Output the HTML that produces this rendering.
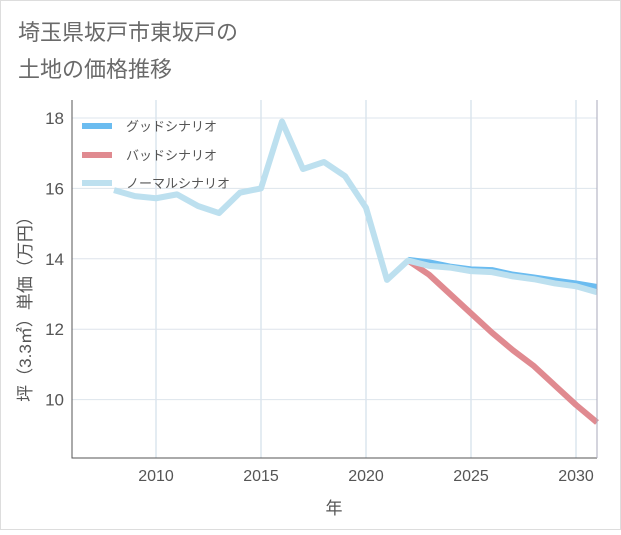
<!DOCTYPE html>
<html><head><meta charset="utf-8"><style>
body{margin:0;background:#fff;}
svg text{font-family:"Liberation Sans","Noto Sans CJK JP",sans-serif;}
</style></head><body>
<svg width="621" height="530" xmlns="http://www.w3.org/2000/svg">
<rect x="0.5" y="0.5" width="620" height="529" fill="#fff" stroke="#ddd"/>
<text x="18" y="40" font-size="22" fill="#6a6a6a">埼玉県坂戸市東坂戸の</text>
<text x="18" y="77" font-size="22" fill="#6a6a6a">土地の価格推移</text>
<g id="grid"></g>
<g id="series"></g>
<g id="axes"></g>
<text x="0" y="0" transform="translate(31,305) rotate(-90)" text-anchor="middle" font-size="17" fill="#555">坪（3.3㎡）単価（万円）</text>
<text x="334" y="514" text-anchor="middle" font-size="17" fill="#555">年</text>
<g>
<line x1="82" y1="126" x2="112" y2="126" stroke="#6bbcf0" stroke-width="6"/>
<text x="126" y="131" font-size="13" fill="#555">グッドシナリオ</text>
<line x1="82" y1="155" x2="112" y2="155" stroke="#e08a90" stroke-width="6"/>
<text x="126" y="160" font-size="13" fill="#555">バッドシナリオ</text>
<line x1="82" y1="183" x2="112" y2="183" stroke="#bde0ef" stroke-width="6"/>
<text x="126" y="188" font-size="13" fill="#555">ノーマルシナリオ</text>
</g>
</svg>
<script>
const normalYears=[2008,2009,2010,2011,2012,2013,2014,2015,2016,2017,2018,2019,2020,2021,2022,2023,2024,2025,2026,2027,2028,2029,2030,2031];
const normalValues=[15.95,15.78,15.72,15.83,15.5,15.3,15.88,16.0,17.9,16.55,16.75,16.35,15.45,13.4,13.95,13.8,13.75,13.65,13.62,13.5,13.42,13.3,13.22,13.05];
const forecastYears=[2022,2023,2024,2025,2026,2027,2028,2029,2030,2031];
const goodValues=[13.97,13.9,13.78,13.7,13.68,13.55,13.47,13.38,13.3,13.2];
const badValues=[13.95,13.55,13.0,12.45,11.9,11.4,10.95,10.4,9.85,9.35];
const xTicks=[2010,2015,2020,2025,2030];
const yTicks=[10,12,14,16,18];
const L=72,R=597,T=100,B=458;
const X=y=>L+(y-2006)*21;
const Y=v=>118+(18-v)*35.2;
const NS='http://www.w3.org/2000/svg';
function mk(t,a,p){const e=document.createElementNS(NS,t);for(const k in a)e.setAttribute(k,a[k]);p.appendChild(e);return e;}
const grid=document.getElementById('grid'),axes=document.getElementById('axes'),series=document.getElementById('series');
xTicks.forEach(t=>{
 const l=mk('line',{x1:X(t),x2:X(t),y1:T,y2:B,stroke:'#c8d8e6','stroke-width':1},grid);
 
 
 const tx=mk('text',{x:X(t),y:B+23,'text-anchor':'middle','font-size':16,fill:'#555'},axes);
 tx.textContent=t;
 
 
});
yTicks.forEach(t=>{
 const l=mk('line',{x1:L,x2:R,y1:Y(t),y2:Y(t),stroke:'#dde4ec','stroke-width':1},grid);
 
 
 const tx=mk('text',{x:L-8,y:Y(t)+6,'text-anchor':'end','font-size':17,fill:'#555'},axes);
 tx.textContent=t;
 
 
});
const ax=mk('path',{d:`M${L},${T}V${B}H${R}`,fill:'none',stroke:'#555','stroke-width':1},axes);


const rx=mk('line',{x1:R,x2:R,y1:T,y2:B,stroke:'#aab','stroke-width':1},axes);


function line(xs,vs,c,name){
 const p=mk('polyline',{points:xs.map((y,i)=>X(y)+','+Y(vs[i])).join(' '),fill:'none',stroke:c,'stroke-width':6,'stroke-linejoin':'round'},series);
 
 
}
line(forecastYears,badValues,'#e08a90','bad-scenario-line');
line(forecastYears,goodValues,'#6bbcf0','good-scenario-line');
line(normalYears,normalValues,'#bde0ef','normal-scenario-line');
</script>
</body></html>
